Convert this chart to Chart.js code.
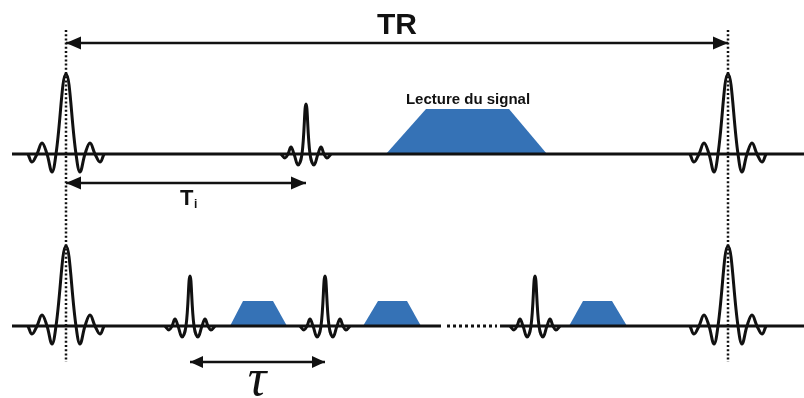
<!DOCTYPE html>
<html>
<head>
<meta charset="utf-8">
<script src="https://cdn.jsdelivr.net/npm/chart.js@4.4.1/dist/chart.umd.min.js"></script>
<style>
  html, body { margin: 0; padding: 0; background: #fff; }
  #wrap { width: 804px; height: 398px; }
</style>
</head>
<body>
<div id="wrap"><canvas id="grafico" width="804" height="398"></canvas></div>
<script>
// diagram units: x = time axis (0..804), y = vertical position (0..398, top down)
const rowBaselines = [154, 326];

// shape of the 90° pulse (sinc), offsets
const bigPulseDx = [-38, -34, -29, -24, -19, -14, -10, 0, 10, 14, 19, 24, 29, 34, 38];
const bigPulseDy = [0, 8, 0, -11, 0, 18, 0, -80, 0, 18, 0, -11, 0, 8, 0];
// shape of the smaller pulse
const smallPulseDx = [-25, -21, -18, -15, -12, -8, -4, 0, 4, 8, 12, 15, 18, 21, 25];
const smallPulseDy = [0, 4, 0, -7, 0, 11, 0, -50, 0, 11, 0, -7, 0, 4, 0];

// pulse centres per row
const topBigPulses = [66, 728];
const topSmallPulses = [306];
const bottomBigPulses = [66, 728];
const bottomSmallPulses = [190, 325, 535];

// readout trapezoids: [base start, top start, top end, base end]
const topReadouts = [[386, 426, 509, 547]];
const topReadoutHeight = 45;
const bottomReadouts = [[230, 243, 273, 287], [363, 378, 407, 421], [569, 583, 612, 627]];
const bottomReadoutHeight = 25;

// baseline segments
const topLineSegments = [[12, 804]];
const bottomLineSegments = [[12, 441], [500, 804]];
const bottomDottedGap = [447, 497];

// dotted markers at the excitation pulses
const markerX = [66, 728];
const markerRange = [30, 362];

// timing arrows: [start, end, y]
const arrowTR = [66, 728, 43];
const arrowTi = [66, 306, 183];
const arrowTau = [190, 325, 362];

const BLUE = '#3572b6';
const INK = '#111111';

let datasets = [];

function pulseData(cx, base, dx, dy) {
    return dx.map((d, i) => ({ x: cx + d, y: base + dy[i] }));
}

function addPulses(centres, base, dx, dy) {
    centres.forEach((cx) => {
        datasets.push({
            data: pulseData(cx, base, dx, dy),
            borderColor: INK,
            borderWidth: 3,
            tension: 0.4,
            order: 1
        });
    });
}

function addReadouts(list, base, h) {
    list.forEach((r) => {
        datasets.push({
            data: [
                { x: r[0], y: base },
                { x: r[1], y: base - h },
                { x: r[2], y: base - h },
                { x: r[3], y: base }
            ],
            borderColor: BLUE,
            borderWidth: 0,
            backgroundColor: BLUE,
            fill: { value: base },
            order: 3
        });
    });
}

function addLine(x0, x1, y, dash) {
    datasets.push({
        data: [{ x: x0, y: y }, { x: x1, y: y }],
        borderColor: INK,
        borderWidth: 3,
        borderDash: dash || [],
        order: 2
    });
}

// baselines
topLineSegments.forEach((s) => addLine(s[0], s[1], rowBaselines[0]));
bottomLineSegments.forEach((s) => addLine(s[0], s[1], rowBaselines[1]));
addLine(bottomDottedGap[0], bottomDottedGap[1], rowBaselines[1], [3, 3]);

addReadouts(topReadouts, rowBaselines[0], topReadoutHeight);
addReadouts(bottomReadouts, rowBaselines[1], bottomReadoutHeight);

addPulses(topBigPulses, rowBaselines[0], bigPulseDx, bigPulseDy);
addPulses(topSmallPulses, rowBaselines[0], smallPulseDx, smallPulseDy);
addPulses(bottomBigPulses, rowBaselines[1], bigPulseDx, bigPulseDy);
addPulses(bottomSmallPulses, rowBaselines[1], smallPulseDx, smallPulseDy);

// dotted verticals
markerX.forEach((mx) => {
    datasets.push({
        data: [{ x: mx, y: markerRange[0] }, { x: mx, y: markerRange[1] }],
        borderColor: INK,
        borderWidth: 2.5,
        borderDash: [2, 2.2],
        order: 0
    });
});

// arrows
[arrowTR, arrowTi, arrowTau].forEach((a, i) => {
    datasets.push({
        data: [{ x: a[0], y: a[2] }, { x: a[1], y: a[2] }],
        borderColor: INK,
        borderWidth: 2.5,
        arrowHeads: true,
        headLen: i === 2 ? 13 : 15,
        headHalf: i === 2 ? 6 : 6.5,
        order: 0
    });
});

// arrow head plugin
const arrowPlugin = {
    id: 'arrowHeads',
    afterDatasetsDraw(chart) {
        const c = chart.ctx;
        chart.data.datasets.forEach((ds, i) => {
            if (!ds.arrowHeads) return;
            const pts = chart.getDatasetMeta(i).data;
            const a = pts[0], b = pts[pts.length - 1];
            const L = ds.headLen, H = ds.headHalf;
            c.save();
            c.fillStyle = INK;
            // head at end (pointing right)
            c.beginPath();
            c.moveTo(b.x, b.y);
            c.lineTo(b.x - L, b.y - H);
            c.lineTo(b.x - L, b.y + H);
            c.closePath();
            c.fill();
            // head at start (pointing left)
            c.beginPath();
            c.moveTo(a.x, a.y);
            c.lineTo(a.x + L, a.y - H);
            c.lineTo(a.x + L, a.y + H);
            c.closePath();
            c.fill();
            c.restore();
        });
    }
};

// text labels
const labels = [
    { text: 'TR', x: 397, y: 34, font: 'bold 30px "Liberation Sans", Arial, sans-serif', align: 'center' },
    { text: 'Lecture du signal', x: 468, y: 104, font: 'bold 15px "Liberation Sans", Arial, sans-serif', align: 'center' },
    { text: 'T', x: 180, y: 205, font: 'bold 22px "Liberation Sans", Arial, sans-serif', align: 'left' },
    { text: 'i', x: 194, y: 208, font: 'bold 12px "Liberation Sans", Arial, sans-serif', align: 'left' },
    { text: 'τ', x: 257, y: 395, font: 'italic 52px "Liberation Serif", "DejaVu Serif", serif', align: 'center' }
];

const textPlugin = {
    id: 'diagramText',
    afterDraw(chart) {
        const c = chart.ctx;
        const sx = chart.scales.x, sy = chart.scales.y;
        c.save();
        c.fillStyle = INK;
        c.textBaseline = 'alphabetic';
        labels.forEach((l) => {
            c.font = l.font;
            c.textAlign = l.align;
            c.fillText(l.text, sx.getPixelForValue(l.x), sy.getPixelForValue(l.y));
        });
        c.restore();
    }
};

let ctx = document.getElementById('grafico');

new Chart(ctx.getContext('2d'), {
    type: 'scatter',
    data: { datasets: datasets },
    options: {
        responsive: false,
        animation: false,
        events: [],
        showLine: true,
        layout: { padding: 0 },
        elements: {
            point: { radius: 0, hoverRadius: 0 },
            line: { borderCapStyle: 'butt', borderJoinStyle: 'round', tension: 0 }
        },
        scales: {
            x: { type: 'linear', min: 0, max: 804, display: false },
            y: { type: 'linear', min: 0, max: 398, reverse: true, display: false }
        },
        plugins: {
            legend: { display: false },
            tooltip: { enabled: false },
            title: { display: false }
        }
    },
    plugins: [arrowPlugin, textPlugin]
});
</script>
</body>
</html>
